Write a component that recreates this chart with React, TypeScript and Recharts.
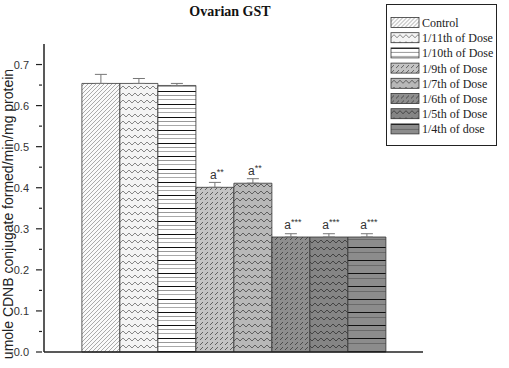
import React from 'react';
import { BarChart, Bar, XAxis, YAxis, ErrorBar, LabelList } from 'recharts';

// groups in the order they are drawn
const seriesKeys = ['control', 'd11', 'd10', 'd9', 'd7', 'd6', 'd5', 'd4'];
const seriesNames = [
  'Control',
  '1/11th of Dose',
  '1/10th of Dose',
  '1/9th of Dose',
  '1/7th of Dose',
  '1/6th of Dose',
  '1/5th of Dose',
  '1/4th of dose',
];
const gstValues = [0.654, 0.654, 0.649, 0.401, 0.411, 0.28, 0.28, 0.28];
const gstErrors = [0.022, 0.012, 0.005, 0.012, 0.011, 0.008, 0.008, 0.008];
const annotations = ['', '', '', 'a**', 'a**', 'a***', 'a***', 'a***'];
const yTicks = [0, 0.05, 0.1, 0.15, 0.2, 0.25, 0.3, 0.35, 0.4, 0.45, 0.5, 0.55, 0.6, 0.65, 0.7];

// one category, eight series
const row: Record<string, any> = { name: '' };
seriesKeys.forEach((k, i) => {
  row[k] = gstValues[i];
  row[k + 'Err'] = [0, gstErrors[i]];
  row[k + 'Note'] = annotations[i];
});
const data = [row];

const fills = seriesKeys.map((k) => `url(#pat-${k})`);

const zig = 'M0 5 L3 2 L6 5 L9 2 L12 5';

const Patterns = () => (
  <defs>
    <pattern id="pat-control" width="4" height="4" patternUnits="userSpaceOnUse">
      <rect width="4" height="4" fill="#fafafa" />
      <path d="M-1 1 L1 -1 M0 4 L4 0 M3 5 L5 3" stroke="#8a8a8a" strokeWidth="0.7" />
    </pattern>
    <pattern id="pat-d11" width="12" height="7" patternUnits="userSpaceOnUse">
      <rect width="12" height="7" fill="#f4f4f4" />
      <path d={zig} stroke="#7a7a7a" strokeWidth="0.9" fill="none" />
    </pattern>
    <pattern id="pat-d10" width="10" height="13" patternUnits="userSpaceOnUse">
      <rect width="10" height="13" fill="#ffffff" />
      <rect y="0" width="10" height="1" fill="#111" />
      <rect y="4" width="10" height="1" fill="#999" />
      <rect y="8" width="10" height="1" fill="#aaa" />
    </pattern>
    <pattern id="pat-d9" width="5" height="5" patternUnits="userSpaceOnUse">
      <rect width="5" height="5" fill="#c4c4c4" />
      <path d="M0 5 L3 2" stroke="#555" strokeWidth="0.9" />
    </pattern>
    <pattern id="pat-d7" width="12" height="7" patternUnits="userSpaceOnUse">
      <rect width="12" height="7" fill="#b8b8b8" />
      <path d={zig} stroke="#555" strokeWidth="0.9" fill="none" />
    </pattern>
    <pattern id="pat-d6" width="5" height="5" patternUnits="userSpaceOnUse">
      <rect width="5" height="5" fill="#8e8e8e" />
      <path d="M0 5 L3 2" stroke="#444" strokeWidth="0.9" />
    </pattern>
    <pattern id="pat-d5" width="12" height="7" patternUnits="userSpaceOnUse">
      <rect width="12" height="7" fill="#858585" />
      <path d={zig} stroke="#3c3c3c" strokeWidth="0.9" fill="none" />
    </pattern>
    <pattern id="pat-d4" width="10" height="13" patternUnits="userSpaceOnUse">
      <rect width="10" height="13" fill="#8c8c8c" />
      <rect y="0" width="10" height="1" fill="#111" />
      <rect y="5" width="10" height="1" fill="#6a6a6a" />
    </pattern>
  </defs>
);

// major ticks labelled, minor ticks short
const YTick = ({ x, y, payload }: any) => {
  const v = payload.value;
  const major = Math.round(v * 100) % 10 === 0;
  return (
    <g>
      <line x1={x + 6 - (major ? 6 : 3)} x2={x + 6} y1={y} y2={y} stroke="#222" strokeWidth={1.2} />
      {major && (
        <text x={x - 7} y={y} dy={4} textAnchor="end" fontSize={11} fill="#333" fontFamily="Liberation Sans, Arial, sans-serif">
          {v.toFixed(1)}
        </text>
      )}
    </g>
  );
};

const NoteLabel = ({ x, y, width, value }: any) => {
  if (!value) return null;
  const stars = value.slice(1);
  return (
    <text x={x + width / 2 + 2} y={y - 8} textAnchor="middle" fontSize={12} fill="#333" fontFamily="Liberation Sans, Arial, sans-serif">
      <tspan>a</tspan>
      <tspan dy={-4} fontSize={9}>{stars}</tspan>
    </text>
  );
};

const LegendBox = () => (
  <div
    style={{
      position: 'absolute',
      left: 386,
      top: 4,
      width: 111,
      height: 142,
      border: '1px solid #222',
      background: '#fff',
      boxSizing: 'border-box',
    }}
  >
    <svg width={109} height={140}>
      {seriesNames.map((name, i) => (
        <g key={name} transform={`translate(4, ${12.5 + i * 15.2})`}>
          <rect x={0} y={0} width={28} height={10} fill={fills[i]} stroke="#333" strokeWidth={0.8} />
          <text x={31} y={9.5} fontSize={12} fill="#222" fontFamily="Liberation Serif, Times New Roman, serif">
            {name}
          </text>
        </g>
      ))}
    </svg>
  </div>
);

export default function App() {
  return (
    <div style={{ position: 'absolute', left: 0, top: 0, width: 509, height: 368, background: '#fff' }}>
      <div
        style={{
          position: 'absolute',
          left: 150,
          top: 4,
          width: 160,
          textAlign: 'center',
          fontFamily: 'Liberation Serif, Times New Roman, serif',
          fontWeight: 'bold',
          fontSize: 14,
          color: '#111',
        }}
      >
        Ovarian GST
      </div>
      <div
        style={{
          position: 'absolute',
          left: 8,
          top: 214,
          transform: 'translate(-50%, -50%) rotate(-90deg)',
          whiteSpace: 'nowrap',
          fontFamily: 'Liberation Sans, Arial, sans-serif',
          fontSize: 14,
          color: '#222',
        }}
      >
        umole CDNB conjugate formed/min/mg protein
      </div>
      <BarChart
        width={509}
        height={368}
        data={data}
        margin={{ top: 44, right: 86, bottom: 0, left: 0 }}
        barCategoryGap="10%"
        barGap={0}
        style={{ position: 'absolute', left: 0, top: 0 }}
      >
        <Patterns />
        <XAxis
          dataKey="name"
          height={16}
          stroke="#222"
          strokeWidth={1.5}
          tickSize={5}
          tick={false}
        />
        <YAxis
          width={44}
          domain={[0, 0.75]}
          ticks={yTicks}
          interval={0}
          stroke="#222"
          strokeWidth={1.5}
          tickLine={false}
          tick={<YTick />}
        />
        {seriesKeys.map((k, i) => (
          <Bar
            key={k}
            dataKey={k}
            name={seriesNames[i]}
            fill={fills[i]}
            stroke="#333"
            strokeWidth={0.8}
            isAnimationActive={false}
          >
            <ErrorBar dataKey={k + 'Err'} width={6} stroke="#777" strokeWidth={1} direction="y" />
            <LabelList dataKey={k + 'Note'} content={<NoteLabel />} />
          </Bar>
        ))}
      </BarChart>
      <LegendBox />
    </div>
  );
}
